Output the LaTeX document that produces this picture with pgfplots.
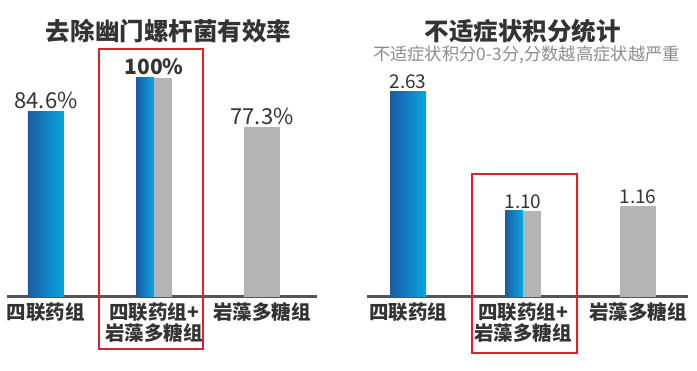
\documentclass[border=0pt]{standalone}
\usepackage{fontspec}
\setmainfont{Noto Sans CJK SC}
\usepackage{pgfplots}
\pgfplotsset{compat=1.18}
\definecolor{bluedark}{HTML}{1A5CA4}
\definecolor{bluelight}{HTML}{0AA5E0}
\definecolor{barGray}{HTML}{B4B4B4}
\definecolor{txt}{HTML}{333333}
\definecolor{axisline}{HTML}{555555}
\definecolor{frameRed}{HTML}{E2202C}
\pgfplotsset{
  mybars/.style={
    scale only axis, clip=false,
    axis x line=bottom, axis y line=none,
    x axis line style={-, line width=2.6bp, color=axisline},
    ymin=0,
    xtick={0,1,2}, ytick=\empty, major tick length=0pt,
    xticklabel style={align=center, text=txt, font=\bfseries\fontsize{19.5bp}{20.5bp}\selectfont, inner sep=0pt, yshift=-6bp},
    every node near coord/.append style={inner sep=0pt, yshift=2.5bp, anchor=south, text=txt},
  }
}
\begin{document}
\begin{tikzpicture}[x=1bp,y=1bp]
\useasboundingbox (0,0) rectangle (697,370);
% ---------- left chart ----------
\begin{axis}[mybars, at={(7bp,73.3bp)}, anchor=south west,
  width=310bp, height=219bp, xmin=-0.361, xmax=2.509, ymax=100,
  xticklabels={四联药组, {四联药组+\\岩藻多糖组}, 岩藻多糖组}]
\addplot[ybar, bar width=36bp, bar shift=0pt, draw=none, left color=bluedark, right color=bluelight] coordinates {(0,84.6)};
\addplot[ybar, bar width=18bp, bar shift=-9bp, draw=none, left color=bluedark, right color=bluelight] coordinates {(1,100)};
\addplot[ybar, bar width=18bp, bar shift=9bp, draw=none, fill=barGray] coordinates {(1,100)};
\addplot[ybar, bar width=36bp, bar shift=0pt, draw=none, fill=barGray] coordinates {(2,77.3)};
\addplot[draw=none, mark=none, nodes near coords, point meta=explicit symbolic,
  every node near coord/.append style={font=\fontsize{22bp}{23bp}\selectfont}]
  coordinates {(0,84.6) [84.6\%] (1,100) [{\fontsize{21bp}{22bp}\selectfont\bfseries 100\%}] (2,77.3) [77.3\%]};
\end{axis}
% ---------- right chart ----------
\begin{axis}[mybars, at={(367bp,73.3bp)}, anchor=south west,
  width=321bp, height=205bp, xmin=-0.357, xmax=2.435, ymax=2.63,
  xticklabels={四联药组, {四联药组+\\岩藻多糖组}, 岩藻多糖组}]
\addplot[ybar, bar width=36bp, bar shift=0pt, draw=none, left color=bluedark, right color=bluelight] coordinates {(0,2.63)};
\addplot[ybar, bar width=18bp, bar shift=-9bp, draw=none, left color=bluedark, right color=bluelight] coordinates {(1,1.10)};
\addplot[ybar, bar width=18bp, bar shift=9bp, draw=none, fill=barGray] coordinates {(1,1.10)};
\addplot[ybar, bar width=36bp, bar shift=0pt, draw=none, fill=barGray] coordinates {(2,1.16)};
\addplot[draw=none, mark=none, nodes near coords, point meta=explicit symbolic,
  every node near coord/.append style={font=\fontsize{19bp}{20bp}\selectfont}]
  coordinates {(0,2.63) [2.63] (1,1.10) [1.10] (2,1.16) [1.16]};
\end{axis}
% titles
\node[font=\bfseries\fontsize{24.5bp}{27bp}\selectfont, text=txt] at (168.5,339) {去除幽门螺杆菌有效率};
\node[font=\bfseries\fontsize{24.5bp}{27bp}\selectfont, text=txt] at (522.5,339) {不适症状积分统计};
\node[font=\fontsize{17.3bp}{19bp}\selectfont, text=black!45] at (526.5,315.5) {不适症状积分0-3分,分数越高症状越严重};
% highlight frames
\draw[frameRed, line width=1.6bp] (99,321) rectangle (203,21);
\draw[frameRed, line width=1.6bp] (472,196) rectangle (577,17.3);
\end{tikzpicture}
\end{document}
